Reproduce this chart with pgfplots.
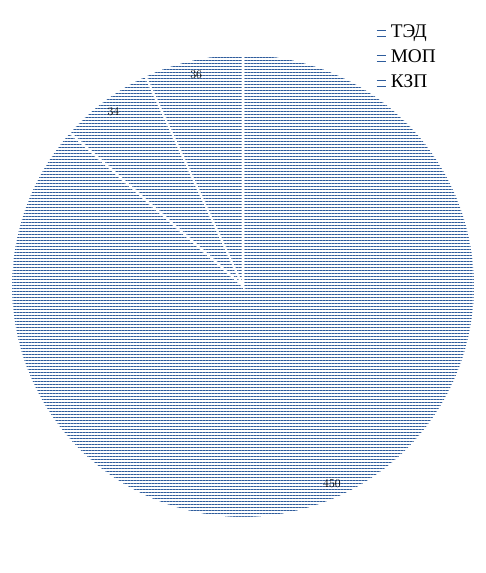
\documentclass[border=0pt]{standalone}
\usepackage{pgfplots}
\pgfplotsset{compat=1.18}
\usepackage{pgfplotstable}
\usepackage{fontspec}
\setmainfont{Liberation Serif}
\usetikzlibrary{patterns.meta}
\definecolor{piecol}{RGB}{46,92,156}

\pgfplotstableread{
val
450
34
36
}\piedata

\begin{document}
\begin{tikzpicture}
\pgfplotstablegetelem{0}{val}\of\piedata \let\va\pgfplotsretval
\pgfplotstablegetelem{1}{val}\of\piedata \let\vb\pgfplotsretval
\pgfplotstablegetelem{2}{val}\of\piedata \let\vc\pgfplotsretval
\pgfmathsetmacro{\tot}{\va+\vb+\vc}
\pgfmathsetmacro{\aA}{90}
\pgfmathsetmacro{\aB}{90-(360/\tot)*\va}
\pgfmathsetmacro{\aC}{\aB-(360/\tot)*\vb}
\pgfmathsetmacro{\aD}{\aC-(360/\tot)*\vc}
\pgfmathsetmacro{\mA}{(\aA+\aB)/2}
\pgfmathsetmacro{\mB}{(\aB+\aC)/2}
\pgfmathsetmacro{\mC}{(\aC+\aD)/2}
\begin{axis}[
  scale only axis, width=486pt, height=573pt,
  xmin=-1.0474, xmax=1.0474, ymin=-1.2371, ymax=1.2328,
  hide axis, clip=false,
  legend style={at={(axis cs:0.5586,1.1385)}, anchor=north west, draw=none, fill=none,
    font=\fontsize{19.3}{22}\selectfont, row sep=7pt,
    nodes={inner sep=1pt, text height=12pt, text depth=4pt}},
  legend cell align=left,
  legend image code/.code={\draw[piecol, line width=0.8pt] (0pt,-3pt)--(9pt,-3pt) (0pt,0pt)--(9pt,0pt) (0pt,3pt)--(9pt,3pt); \path (0pt,0pt) -- (12pt,0pt);},
  slice/.style={draw=white, line width=2pt, pattern={Lines[angle=0,distance=3pt,line width=0.75pt]}, pattern color=piecol, samples=150},
]
\path (rel axis cs:0,0) rectangle (rel axis cs:1,1);
\addplot[slice, domain=\aB:\aA] ({cos(x)},{sin(x)}) -- (axis cs:0,0) -- cycle;
\addlegendentry{ТЭД}
\addplot[slice, domain=\aC:\aB] ({cos(x)},{sin(x)}) -- (axis cs:0,0) -- cycle;
\addlegendentry{МОП}
\addplot[slice, domain=\aD:\aC] ({cos(x)},{sin(x)}) -- (axis cs:0,0) -- cycle;
\addlegendentry{КЗП}
\node[font=\fontsize{13}{15}\selectfont, text=black] at (axis cs:{0.935*cos(\mA)},{0.935*sin(\mA)}) {\pgfmathprintnumber{\va}};
\node[font=\fontsize{13}{15}\selectfont, text=black] at (axis cs:{0.935*cos(\mB)},{0.935*sin(\mB)}) {\pgfmathprintnumber{\vb}};
\node[font=\fontsize{13}{15}\selectfont, text=black] at (axis cs:{0.935*cos(\mC)},{0.935*sin(\mC)}) {\pgfmathprintnumber{\vc}};
\end{axis}
\end{tikzpicture}
\end{document}
